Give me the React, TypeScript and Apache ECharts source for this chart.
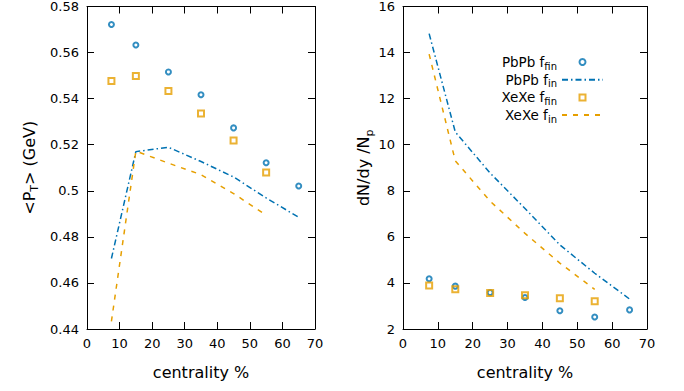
import React, { useEffect, useRef } from "react";
import * as echarts from "echarts";

const centralityPb = [7.5, 15, 25, 35, 45, 55, 65];
const centralityXe = [7.5, 15, 25, 35, 45, 55];

const ptPbFfin = [0.5722, 0.5633, 0.5516, 0.5417, 0.5273, 0.5122, 0.5021];
const ptXeFfin = [0.5477, 0.5498, 0.5433, 0.5336, 0.5218, 0.5079];
const ptPbFin = [0.4706, 0.517, 0.5189, 0.5127, 0.506, 0.4969, 0.4885];
const ptXeFin = [0.4433, 0.5172, 0.512, 0.507, 0.4988, 0.4894];

const dndyPbFfin = [4.18, 3.86, 3.58, 3.37, 2.79, 2.52, 2.83];
const dndyXeFfin = [3.89, 3.73, 3.56, 3.46, 3.33, 3.21];
const dndyPbFin = [14.82, 10.55, 8.77, 7.23, 5.65, 4.42, 3.3];
const dndyXeFin = [13.93, 9.3, 7.55, 6.15, 4.86, 3.72];

const seriesNames = ["PbPb f_fin", "PbPb f_in", "XeXe f_fin", "XeXe f_in"];

const BLUE = "#0072b2";
const ORANGE = "#e69f00";
const FONT = "DejaVu Sans";

const zip = (xs: number[], ys: number[]) => xs.map((x, i) => [x, ys[i]]);

export default function App() {
  const ref = useRef<HTMLDivElement>(null);
  useEffect(() => {
    if (!ref.current) return;
    const chart = echarts.init(ref.current, null, { renderer: "svg" });
    const axisCommon = {
      axisLine: { onZero: false, lineStyle: { color: "#000", width: 1 } },
      axisTick: { inside: true, length: 7, lineStyle: { color: "#000" } },
      splitLine: { show: false },
    };
    const labelStyle = { color: "#000", fontSize: 13, fontFamily: FONT };
    const nameRich = {
      n: { fontSize: 16, fontFamily: FONT, color: "#000", lineHeight: 22 },
      s: { fontSize: 11, fontFamily: FONT, color: "#000", lineHeight: 11, verticalAlign: "bottom" },
    };
    const xAxisFor = (grid: number) => [
      {
        type: "value",
        gridIndex: grid,
        min: 0,
        max: 70,
        interval: 10,
        position: "bottom",
        ...axisCommon,
        axisLabel: { ...labelStyle, margin: 8 },
        name: "centrality %",
        nameLocation: "middle",
        nameGap: 35,
        nameTextStyle: { fontSize: 16, fontFamily: FONT, color: "#000" },
      },
      {
        type: "value",
        gridIndex: grid,
        min: 0,
        max: 70,
        interval: 10,
        position: "top",
        ...axisCommon,
        axisLabel: { show: false },
      },
    ];
    const lineSeries = (name: string, x: number, y: number, xs: number[], ys: number[], color: string, dash: number[]) => ({
      name,
      type: "line",
      xAxisIndex: x,
      yAxisIndex: y,
      data: zip(xs, ys),
      showSymbol: false,
      symbol: "none",
      lineStyle: { color, width: 1.5, type: dash },
      itemStyle: { color },
    });
    const scatterSeries = (name: string, x: number, y: number, xs: number[], ys: number[], color: string, symbol: string, size: number) => ({
      name,
      type: "scatter",
      xAxisIndex: x,
      yAxisIndex: y,
      data: zip(xs, ys),
      symbol,
      symbolSize: size,
      symbolKeepAspect: true,
      itemStyle: { color: "rgba(255,255,255,0)", borderColor: color, borderWidth: 2 },
    });
    const dashDot = [6, 3, 1.5, 3];
    const dashed = [5, 6];
    const hiddenSymbol = { color: "rgba(0,0,0,0)", borderColor: "rgba(0,0,0,0)", borderWidth: 0, opacity: 0 };
    chart.setOption({
      animation: false,
      backgroundColor: "#fff",
      grid: [
        { left: 87, top: 5, width: 228, height: 324 },
        { left: 403, top: 5, width: 244, height: 324 },
      ],
      xAxis: [...xAxisFor(0), ...xAxisFor(1)],
      yAxis: [
        {
          type: "value",
          gridIndex: 0,
          min: 0.44,
          max: 0.58,
          interval: 0.02,
          position: "left",
          ...axisCommon,
          axisLabel: { ...labelStyle, margin: 8 },
          name: "{n|<P}{s|T}{n|> (GeV)}",
          nameLocation: "middle",
          nameGap: 47,
          nameTextStyle: { rich: nameRich },
        },
        {
          type: "value",
          gridIndex: 0,
          min: 0.44,
          max: 0.58,
          interval: 0.02,
          position: "right",
          ...axisCommon,
          axisLabel: { show: false },
        },
        {
          type: "value",
          gridIndex: 1,
          min: 2,
          max: 16,
          interval: 2,
          position: "left",
          ...axisCommon,
          axisLabel: { ...labelStyle, margin: 8 },
          name: "{n|dN/dy /N}{s|p}",
          nameLocation: "middle",
          nameGap: 14,
          nameTextStyle: { rich: nameRich },
        },
        {
          type: "value",
          gridIndex: 1,
          min: 2,
          max: 16,
          interval: 2,
          position: "right",
          ...axisCommon,
          axisLabel: { show: false },
        },
      ],
      legend: {
        data: [
          { name: seriesNames[0], icon: "circle" },
          { name: seriesNames[1], itemStyle: hiddenSymbol },
          { name: seriesNames[2], icon: "path://M0,0L10,0L10,10L0,10Z" },
          { name: seriesNames[3], itemStyle: hiddenSymbol },
        ],
        orient: "vertical",
        align: "right",
        right: 80,
        top: 55,
        padding: 0,
        itemWidth: 41,
        itemHeight: 6,
        itemGap: 1.7,
        symbolKeepAspect: true,
        formatter: (name: string) => {
          const [a, b] = name.split("_");
          return `{n|${a}}{s|${b}}`;
        },
        textStyle: {
          rich: {
            n: { fontSize: 13.5, fontFamily: FONT, color: "#000", lineHeight: 18 },
            s: { fontSize: 10, fontFamily: FONT, color: "#000", lineHeight: 10, verticalAlign: "bottom" },
          },
        },
      },
      series: [
        scatterSeries(seriesNames[0], 0, 0, centralityPb, ptPbFfin, BLUE, "circle", 5),
        lineSeries(seriesNames[1], 0, 0, centralityPb, ptPbFin, BLUE, dashDot),
        scatterSeries(seriesNames[2], 0, 0, centralityXe, ptXeFfin, ORANGE, "rect", 6),
        lineSeries(seriesNames[3], 0, 0, centralityXe, ptXeFin, ORANGE, dashed),
        scatterSeries(seriesNames[0], 2, 2, centralityPb, dndyPbFfin, BLUE, "circle", 5),
        lineSeries(seriesNames[1], 2, 2, centralityPb, dndyPbFin, BLUE, dashDot),
        scatterSeries(seriesNames[2], 2, 2, centralityXe, dndyXeFfin, ORANGE, "rect", 6),
        lineSeries(seriesNames[3], 2, 2, centralityXe, dndyXeFin, ORANGE, dashed),
      ],
    });
    return () => chart.dispose();
  }, []);
  return <div ref={ref} style={{ width: 684, height: 391, position: "absolute", left: 0, top: 0 }} />;
}
